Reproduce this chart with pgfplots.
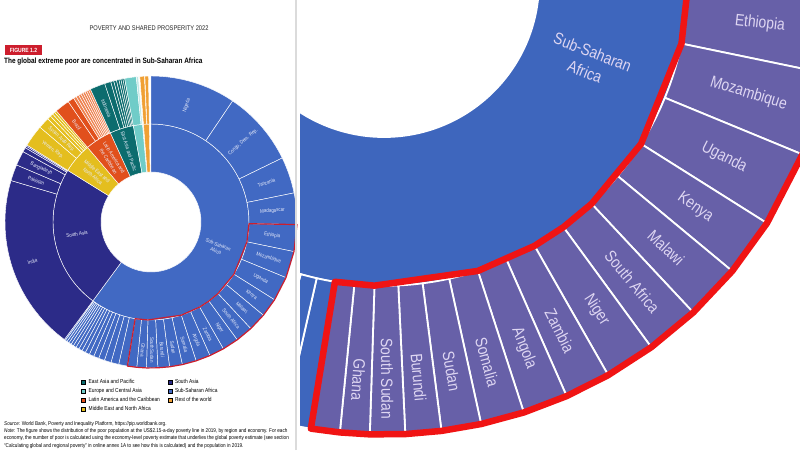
\documentclass[border=0pt]{standalone}
\usepackage{fontspec}
\setmainfont{Liberation Sans}
\newfontfamily\cond[FakeStretch=0.84]{Liberation Sans}
\usepackage{pgfplots}
\usepackage{pgfplotstable}
\usepgfplotslibrary{polar}
\pgfplotsset{compat=1.18}

% colour index: 1 SSA, 2 South Asia, 3 MENA, 4 LAC, 5 LAC small, 6 EAP, 7 ECA, 8 ECA small, 9 rest, 10 SSA (zoom), 11 highlighted (zoom)
\definecolor{col1}{RGB}{65,105,195}
\definecolor{col2}{RGB}{44,43,136}
\definecolor{col3}{RGB}{228,190,30}
\definecolor{col4}{RGB}{225,80,28}
\definecolor{col5}{RGB}{238,130,80}
\definecolor{col6}{RGB}{12,108,110}
\definecolor{col7}{RGB}{112,204,200}
\definecolor{col8}{RGB}{190,232,230}
\definecolor{col9}{RGB}{240,160,52}
\definecolor{col10}{RGB}{62,102,189}
\definecolor{col11}{RGB}{103,96,168}
\definecolor{hl}{RGB}{205,30,45}
\definecolor{hlR}{RGB}{240,20,20}
\definecolor{labL}{RGB}{232,236,250}
\definecolor{labR}{RGB}{222,214,242}

% inner ring: regions (bearing clockwise from 12 o'clock, radii in hole units)
\pgfplotstableread{
b1 b2 r1 r2 cl cr
0 216.4 1 1.96 1 10
216.4 301.8 1 1.96 2 2
301.8 319.6 1 1.96 3 3
319.6 335.5 1 1.96 4 4
335.5 349.6 1 1.96 6 6
349.6 355.0 1 1.96 7 7
355.6 359.0 1 1.96 9 9
}\ringin

% outer ring: economies
\pgfplotstableread{
b1 b2 r1 r2 cl cr
0 34 1.96 2.92 1 10
34 64 1.96 2.92 1 10
64 78.5 1.96 2.92 1 10
78.5 91 1.96 2.92 1 10
91 101.7 1.96 2.92 1 11
101.7 112.4 1.96 2.92 1 11
112.4 122.2 1.96 2.92 1 11
122.2 129.7 1.96 2.92 1 11
129.7 136.9 1.96 2.92 1 11
136.9 143.8 1.96 2.92 1 11
143.8 150.3 1.96 2.92 1 11
150.3 156.2 1.96 2.92 1 11
156.2 162 1.96 2.92 1 11
162 167.6 1.96 2.92 1 11
167.6 172.7 1.96 2.92 1 11
172.7 177.3 1.96 2.92 1 11
177.3 181.8 1.96 2.92 1 11
181.8 185.6 1.96 2.92 1 11
185.6 189.3 1.96 2.92 1 11
189.3 192.8 1.96 2.92 1 10
192.8 195.9 1.96 2.92 1 10
195.9 198.6 1.96 2.92 1 10
198.6 201.0 1.96 2.92 1 10
201.0 203.1 1.96 2.92 1 10
203.1 205.0 1.96 2.92 1 10
205.0 206.7 1.96 2.92 1 10
206.7 208.2 1.96 2.92 1 10
208.2 209.6 1.96 2.92 1 10
209.6 210.9 1.96 2.92 1 10
210.9 212.1 1.96 2.92 1 10
212.1 213.2 1.96 2.92 1 10
213.2 214.2 1.96 2.92 1 10
214.2 215.1 1.96 2.92 1 10
215.1 215.9 1.96 2.92 1 10
215.9 216.4 1.96 2.92 1 10
216.4 286.5 1.96 2.92 2 2
286.5 293 1.96 2.92 2 2
293 298.8 1.96 2.92 2 2
298.8 300.6 1.96 2.92 2 2
300.6 301.3 1.96 2.92 2 2
301.3 301.8 1.96 2.92 2 2
301.8 310.5 1.96 2.92 3 3
310.5 315 1.96 2.92 3 3
315 316.5 1.96 2.92 3 3
316.5 317.7 1.96 2.92 3 3
317.7 318.7 1.96 2.92 3 3
318.7 319.6 1.96 2.92 3 3
319.6 325.5 1.96 2.92 4 4
325.5 328 1.96 2.92 4 4
328 329.2 1.96 2.92 5 5
329.2 330.3 1.96 2.92 5 5
330.3 331.3 1.96 2.92 5 5
331.3 332.2 1.96 2.92 5 5
332.2 333.1 1.96 2.92 5 5
333.1 333.9 1.96 2.92 5 5
333.9 334.7 1.96 2.92 5 5
334.7 335.5 1.96 2.92 5 5
335.5 341.5 1.96 2.92 6 6
341.5 344 1.96 2.92 6 6
344 345.2 1.96 2.92 6 6
345.2 346.3 1.96 2.92 6 6
346.3 347.3 1.96 2.92 6 6
347.3 348.1 1.96 2.92 6 6
348.1 348.9 1.96 2.92 6 6
348.9 349.6 1.96 2.92 6 6
349.6 354.2 1.96 2.92 7 7
354.2 355.0 1.96 2.92 8 8
355.6 357.4 1.96 2.92 9 9
357.6 359.0 1.96 2.92 9 9
}\ringout

% highlighted block outline (bearing, radius)
\pgfplotstableread{
b r
91 2.92
101.7 2.92
112.4 2.92
122.2 2.92
129.7 2.92
136.9 2.92
143.8 2.92
150.3 2.92
156.2 2.92
162 2.92
167.6 2.92
172.7 2.92
177.3 2.92
181.8 2.92
185.6 2.92
189.3 2.92
189.3 1.96
181.8 1.96
162 1.96
150.3 1.96
143.8 1.96
136.9 1.96
122.2 1.96
101.7 1.96
91 1.96
}\hlbox

% labels
\pgfplotstableread[col sep=semicolon]{
b;r;rot;lab
17;2.44;73;Nigeria
49;2.44;41;Congo{,} Dem. Rep.
71.25;2.44;18.75;Tanzania
84.75;2.44;5.25;Madagascar
96.35;2.44;-6.35;Ethiopia
107.05;2.46;-17.05;Mozambique
117.3;2.47;-27.3;Uganda
125.95;2.48;-35.95;Kenya
133.3;2.5;-43.3;Malawi
140.35;2.51;-50.35;South Africa
147.05;2.52;-57.05;Niger
153.25;2.52;-63.25;Zambia
159.1;2.53;-69.1;Angola
164.8;2.54;-74.8;Somalia
170.15;2.55;-80.15;Sudan
175;2.56;-85;Burundi
179.55;2.56;-89.55;South Sudan
183.7;2.57;-93.7;Ghana
251.5;2.5;18.5;India
289.75;2.44;-19.75;Pakistan
295.9;2.44;-25.9;Bangladesh
306.2;2.44;-36.2;Yemen{,} Rep.
312.8;2.44;-42.8;Syrian Arab Rep.
322.5;2.44;-52.5;Brazil
338.5;2.44;-68.5;Indonesia
108.6;1.42;-21.3;Sub-Saharan
114.1;1.42;-21.3;Africa
260.7;1.5;9.3;South Asia
313.2;1.48;-40.5;Middle East and
308.2;1.48;-40.5;North Africa
330;1.48;-57.5;Latin America and
325;1.48;-57.5;the Caribbean
342.5;1.48;-72.5;East Asia and Pacific
}\labs

\pgfdeclareplotmark{sector}{%
  \pgfmathtruncatemacro\cidx{\fc}%
  \pgfpathmoveto{\pgfpointpolar{\aone}{\rone pt}}%
  \pgfpatharc{\aone}{\atwo}{\rone pt}%
  \pgfpathlineto{\pgfpointpolar{\atwo}{\rtwo pt}}%
  \pgfpatharc{\atwo}{\aone}{\rtwo pt}%
  \pgfpathclose
  \pgfsetfillcolor{col\cidx}%
  \pgfsetstrokecolor{white}%
  \pgfsetlinewidth{\sepw}%
  \pgfsetroundjoin
  \pgfusepath{fill,stroke}%
}

\pgfplotsset{
  sectors/.style={
    scatter, only marks, mark=sector,
    point meta=\thisrow{b1},
    scatter/@pre marker code/.code={\pgfscope},
    scatter/@post marker code/.code={\endpgfscope},
    visualization depends on={90-\thisrow{b1}\as\aone},
    visualization depends on={90-\thisrow{b2}\as\atwo},
    visualization depends on={\thisrow{r1}*\U\as\rone},
    visualization depends on={\thisrow{r2}*\U\as\rtwo},
    visualization depends on={\thisrow{#1}\as\fc},
  },
  wheel/.style={anchor=origin, xmin=-3, xmax=3, ymin=-3, ymax=3,
    hide axis, clip=false, clip marker paths=true},
}

\begin{document}
\begin{tikzpicture}[x=1pt,y=1pt]
\useasboundingbox (0,0) rectangle (800,450);
\fill[white] (0,0) rectangle (800,450);

% ---------------- left: report page ----------------
\node[font=\cond\fontsize{6.8}{8}\selectfont, text=black!85] at (149,422) {POVERTY AND SHARED PROSPERITY 2022};
\fill[hl] (5,394.5) rectangle (42,404.5);
\node[font=\cond\bfseries\fontsize{6}{7}\selectfont, text=white] at (23.5,399.5) {FIGURE 1.2};
\node[anchor=west, inner sep=0pt, font=\cond\bfseries\fontsize{7.7}{9}\selectfont] at (4,388) {The global extreme poor are concentrated in Sub-Saharan Africa};

\def\U{50}\def\sepw{0.45pt}
\begin{axis}[wheel, at={(151pt,228pt)}, x=50pt, y=50pt,
  legend columns=4, transpose legend, legend cell align=left,
  legend image code/.code={\fill[#1] (0pt,-2pt) rectangle (4pt,2pt);},
  legend style={at={(0.2667,-0.0233)}, anchor=north west, draw=none, fill=none,
    inner sep=0pt, row sep=2pt, nodes={inner sep=0.6pt},
    font=\cond\fontsize{5.8}{6.5}\selectfont,
    /tikz/every odd column/.append style={column sep=2.5pt},
    /tikz/every even column/.append style={column sep=7pt}}]
\addlegendimage{fill=col6}\addlegendentry{East Asia and Pacific}
\addlegendimage{fill=col7}\addlegendentry{Europe and Central Asia}
\addlegendimage{fill=col4}\addlegendentry{Latin America and the Caribbean}
\addlegendimage{fill=col3}\addlegendentry{Middle East and North Africa}
\addlegendimage{fill=col2}\addlegendentry{South Asia}
\addlegendimage{fill=col1}\addlegendentry{Sub-Saharan Africa}
\addlegendimage{fill=col9}\addlegendentry{Rest of the world}
\addplot[sectors=cl] table[x expr=0, y expr=0] {\ringin};
\addplot[sectors=cl] table[x expr=0, y expr=0] {\ringout};
\addplot[data cs=polar, draw=hl, line width=1.2pt, line join=round, mark=none]
  table[x expr=90-\thisrow{b}, y=r] {\hlbox} -- cycle;
\addplot[data cs=polar, draw=none, mark=none, nodes near coords,
  point meta=explicit symbolic,
  visualization depends on={\thisrow{rot}\as\lrot},
  nodes near coords style={font=\cond\fontsize{5.3}{6}\selectfont, text=labL,
    rotate=\lrot, anchor=center, inner sep=0pt}]
  table[x expr=90-\thisrow{b}, y=r, meta=lab] {\labs};
\end{axis}

\node[anchor=west, inner sep=0pt, font=\cond\fontsize{5.5}{6.5}\selectfont] at (4,26) {\textit{Source:} World Bank, Poverty and Inequality Platform, https://pip.worldbank.org.};
\node[anchor=west, inner sep=0pt, font=\cond\fontsize{5.5}{6.5}\selectfont] at (4,18.5) {\textit{Note:} The figure shows the distribution of the poor population at the US\$2.15-a-day poverty line in 2019, by region and economy. For each};
\node[anchor=west, inner sep=0pt, font=\cond\fontsize{5.5}{6.5}\selectfont] at (4,11.5) {economy, the number of poor is calculated using the economy-level poverty estimate that underlies the global poverty estimate (see section};
\node[anchor=west, inner sep=0pt, font=\cond\fontsize{5.5}{6.5}\selectfont] at (4,4.3) {“Calculating global and regional poverty” in online annex 1A to see how this is calculated) and the population in 2019.};

% ---------------- right: zoomed view ----------------
\begin{scope}
\clip (300,0) rectangle (800,450);
\def\U{155}\def\sepw{1.8pt}
\begin{axis}[wheel, at={(384pt,468pt)}, x=155pt, y=155pt]
\addplot[sectors=cr] table[x expr=0, y expr=0] {\ringin};
\addplot[sectors=cr] table[x expr=0, y expr=0] {\ringout};
\addplot[data cs=polar, draw=hlR, line width=6.5pt, line join=round, mark=none]
  table[x expr=90-\thisrow{b}, y=r] {\hlbox} -- cycle;
\addplot[data cs=polar, draw=none, mark=none, nodes near coords,
  point meta=explicit symbolic,
  restrict expr to domain={\thisrow{b}}{90:190},
  visualization depends on={\thisrow{rot}\as\lrot},
  nodes near coords style={font=\cond\fontsize{16.5}{19}\selectfont, text=labR,
    rotate=\lrot, anchor=center, inner sep=0pt}]
  table[x expr=90-\thisrow{b}, y=r, meta=lab] {\labs};
\end{axis}
\end{scope}

\draw[black!14, line width=1.2pt] (296,0) -- (296,450);
\end{tikzpicture}
\end{document}
